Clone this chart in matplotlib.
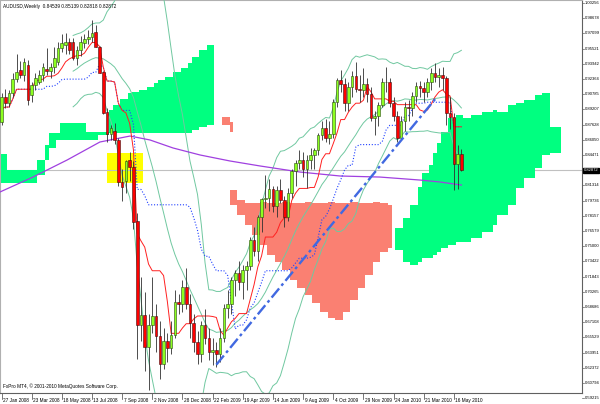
import numpy as np
import pandas as pd
import matplotlib
matplotlib.use("Agg")
import matplotlib.pyplot as plt
from matplotlib.transforms import blended_transform_factory

plt.rcParams['font.family'] = ['Liberation Sans', 'DejaVu Sans']

# ---------------- weekly AUDUSD candles (week 0 = 27 Jan 2008) ----------------
opens = [.879, .905, .899, .909, .924, .933, .928, .938, .907, .917, .921, .928, .934, .932, .936, .941,
         .956, .959, .962, .962, .945, .954, .961, .965, .967, .972, .957, .931, .889, .867, .870, .860,
         .817, .818, .839, .832, .776, .668, .679, .645, .668, .677, .657, .628, .652, .644, .658, .692,
         .690, .708, .690, .670, .650, .638, .668, .655, .640, .642, .638, .655, .686, .690, .715, .722,
         .713, .725, .729, .756, .745, .780, .799, .800, .809, .792, .808, .798, .780, .805, .828, .836,
         .840, .830, .840, .845, .850, .865, .873, .862, .866, .900, .923, .918, .899, .915, .927, .913,
         .912, .918, .908, .883, .885, .897, .920, .920, .899, .885, .862, .880, .895, .894, .906, .916,
         .914, .910, .920, .930, .926, .928, .925, .888, .884, .835, .84539]
highs = [.909, .913, .912, .930, .950, .942, .945, .943, .920, .930, .933, .940, .956, .940, .957, .962,
         .970, .971, .966, .966, .958, .968, .970, .975, .985, .980, .958, .932, .893, .876, .878, .862,
         .830, .840, .848, .838, .784, .718, .702, .680, .718, .690, .672, .665, .660, .672, .705, .700,
         .715, .727, .700, .680, .662, .672, .685, .665, .655, .650, .665, .690, .705, .718, .725, .735,
         .730, .735, .760, .770, .782, .800, .824, .820, .812, .812, .820, .802, .810, .830, .840, .850,
         .848, .845, .852, .852, .868, .880, .882, .880, .903, .925, .933, .925, .920, .932, .941, .928,
         .935, .925, .915, .890, .900, .925, .936, .925, .905, .890, .885, .900, .902, .910, .920, .922,
         .920, .925, .935, .940, .935, .936, .927, .905, .888, .855, .85139]
lows = [.876, .893, .895, .905, .920, .925, .922, .897, .900, .912, .918, .922, .928, .925, .930, .938,
        .952, .950, .950, .943, .938, .948, .956, .960, .962, .957, .930, .887, .858, .860, .856, .812,
        .797, .805, .818, .768, .633, .652, .620, .601, .660, .640, .612, .622, .630, .638, .655, .680,
        .682, .685, .655, .640, .628, .630, .648, .632, .627, .625, .630, .650, .675, .680, .698, .705,
        .695, .705, .725, .740, .735, .765, .790, .787, .785, .780, .795, .770, .776, .800, .812, .830,
        .822, .810, .830, .830, .845, .860, .858, .856, .862, .895, .910, .890, .890, .905, .910, .900,
        .905, .900, .880, .865, .875, .895, .910, .895, .880, .858, .860, .870, .880, .885, .900, .905,
        .900, .905, .912, .920, .915, .912, .876, .872, .808, .809, .82818]
closes = [.905, .899, .909, .924, .931, .928, .941, .902, .917, .925, .928, .936, .932, .936, .945, .956,
          .961, .962, .954, .945, .954, .962, .965, .967, .971, .957, .930, .888, .867, .873, .860, .817,
          .811, .838, .832, .775, .668, .679, .645, .668, .677, .657, .628, .652, .644, .658, .692, .690,
          .708, .690, .670, .650, .638, .668, .655, .640, .642, .638, .655, .686, .690, .715, .722, .713,
          .725, .729, .756, .745, .780, .799, .800, .809, .792, .808, .798, .780, .805, .828, .836, .840,
          .830, .840, .845, .850, .865, .873, .862, .866, .900, .923, .918, .899, .915, .927, .913, .912,
          .918, .908, .883, .885, .897, .920, .920, .899, .885, .862, .880, .895, .894, .906, .916, .914,
          .910, .920, .930, .926, .928, .925, .888, .884, .835, .846, .82872]

# ---------------- slow moving average (purple) ----------------
ma_bar = [-0.4, 8.4, 17.4, 26.1, 34.1, 39.4, 45.5, 52.7, 60.6, 68.6, 79.2, 89.8, 100.4, 111.0, 116.3, 122.0]
ma_val = [0.8063, 0.8219, 0.8395, 0.8582, 0.8644, 0.8603, 0.8520, 0.8447, 0.8385, 0.8333, 0.8270,
          0.8229, 0.8218, 0.8187, 0.8167, 0.8135]

# ---------------- Ichimoku cloud segments (start bar, top, bottom) ----------------
c1_start = [-0.5, 1.5, 9.5, 11.5, 12.5, 14.5, 15.5, 22.5, 25.5, 28.5, 29.5, 31.5, 33.5, 34.5, 36.5,
            38.5, 40.5, 41.5, 43.5, 45.5, 47.5, 49.5, 50.5, 52.5, 54.5, 56.5]
c1_top = [0.8458, 0.8291, 0.8395, 0.8551, 0.8676, 0.8676, 0.8779, 0.8686, 0.8686, 0.8914, 0.8966,
          0.9029, 0.9091, 0.9101, 0.9122, 0.9153, 0.9195, 0.9226, 0.9257, 0.9309, 0.9351, 0.9403,
          0.9465, 0.9538, 0.9589, 0.9589]
c1_bot = [0.8156, 0.8156, 0.8239, 0.8395, 0.8520, 0.8603, 0.8603, 0.8603, 0.8655, 0.8676, 0.8676,
          0.8676, 0.8676, 0.8676, 0.8676, 0.8676, 0.8676, 0.8676, 0.8676, 0.8676, 0.8676, 0.8676,
          0.8707, 0.8738, 0.8759, 0.8759]

s1_start = [58.5, 60.5, 61.5]
s1_top = [0.8842, 0.8790, 0.8790]
s1_bot = [0.8759, 0.8686, 0.8686]

c2_start = [60.5, 62.5, 64.5, 66.5, 68.5, 70.5, 72.5, 74.5, 76.5, 78.5, 80.5, 82.5, 84.5, 86.5, 88.5,
            90.5, 92.5, 94.5, 96.5, 98.5, 100.5, 102.5, 103.5]
c2_top = [0.8084, 0.7980, 0.7949, 0.7949, 0.7960, 0.7949, 0.7949, 0.7960, 0.7949, 0.7949, 0.7960,
          0.7949, 0.7949, 0.7960, 0.7949, 0.7949, 0.7960, 0.7949, 0.7949, 0.7960, 0.7949, 0.7928, 0.7928]
c2_bot = [0.7928, 0.7824, 0.7720, 0.7616, 0.7512, 0.7409, 0.7336, 0.7253, 0.7149, 0.7066, 0.6993,
          0.6910, 0.6817, 0.6754, 0.6734, 0.6817, 0.6941, 0.7066, 0.7201, 0.7336, 0.7440, 0.7481, 0.7481]

c3_start = [104.5, 106.5, 108.5, 110.5, 111.5, 113.5, 114.5, 115.5, 116.5, 118.5, 120.5, 122.5, 124.5,
            127.5, 130.5, 131.5, 134.5, 136.5, 138.5, 141.5, 143.5, 145.5, 148.5]
c3_top = [0.7689, 0.7793, 0.7928, 0.8115, 0.8260, 0.8343, 0.8468, 0.8572, 0.8686, 0.8831, 0.8862,
          0.8831, 0.8862, 0.8894, 0.8914, 0.8894, 0.8966, 0.8987, 0.9018, 0.9070, 0.9091, 0.8738, 0.8738]
c3_bot = [0.7461, 0.7336, 0.7305, 0.7336, 0.7377, 0.7377, 0.7409, 0.7440, 0.7481, 0.7512, 0.7544,
          0.7544, 0.7585, 0.7647, 0.7720, 0.7824, 0.7928, 0.8104, 0.8208, 0.8312, 0.8447, 0.8468, 0.8468]

# ---------------- objects ----------------
box_bars = [28.0, 37.6]
box_prices = [0.8153, 0.8471]
trend_bars = [57.0, 115.3]
trend_prices = [0.627, 0.904]
last_price = 0.82872

price_ticks = [1.00256, 0.98678, 0.97099, 0.95521, 0.93942, 0.92364, 0.90785, 0.89207, 0.87628,
               0.86050, 0.84471, 0.82893, 0.81314, 0.79736, 0.78157, 0.76579, 0.75000, 0.73422,
               0.71843, 0.70265, 0.68686, 0.67108, 0.65529, 0.63951, 0.62372, 0.60794, 0.59215]
date_pos = [0, 8, 16, 24, 32, 40, 48, 56, 64, 72, 80, 88, 96, 104, 112, 120]
date_labels = ['27 Jan 2008', '23 Mar 2008', '18 May 2008', '13 Jul 2008', '7 Sep 2008', '2 Nov 2008',
               '28 Dec 2008', '22 Feb 2009', '19 Apr 2009', '14 Jun 2009', '9 Aug 2009', '4 Oct 2009',
               '29 Nov 2009', '24 Jan 2010', '21 Mar 2010', '16 May 2010']

# ---------------- indicators from the candles ----------------
df = pd.DataFrame({'o': opens, 'h': highs, 'l': lows, 'c': closes})
x = np.arange(len(df))
tenkan = (df.h.rolling(9, min_periods=1).max() + df.l.rolling(9, min_periods=1).min()) / 2
kijun = (df.h.rolling(26, min_periods=1).max() + df.l.rolling(26, min_periods=1).min()) / 2
mid = df.c.rolling(20, min_periods=20).mean()
sd = df.c.rolling(20, min_periods=20).std(ddof=0)
bb_up, bb_lo = mid + 2 * sd, mid - 2 * sd

# ---------------- figure ----------------
fig = plt.figure(figsize=(6, 4.04), dpi=100)
ax = fig.add_axes([0, 11 / 404, 582 / 600, 393 / 404])
ax.set_xlim(-0.4, 154.0)
ax.set_ylim(0.59753, 1.00568)
ax.set_xticks([])
ax.set_yticks([])
for s in ['left', 'top']:
    ax.spines[s].set_color('#b0b0b0')
    ax.spines[s].set_linewidth(0.8)
for s in ['right', 'bottom']:
    ax.spines[s].set_color('#606060')
    ax.spines[s].set_linewidth(0.8)

green = '#00ff80'
salmon = '#fa8072'


def cloud(starts, top, bot, color):
    ax.fill_between(starts, bot, top, step='post', color=color, linewidth=0, zorder=2)


ax.add_patch(plt.Rectangle((box_bars[0], box_prices[0]), box_bars[1] - box_bars[0],
                           box_prices[1] - box_prices[0], color='#ffff00', lw=0, zorder=1))
ax.axhline(last_price, color='#c0c0c0', lw=0.8, zorder=1.5)
cloud(c1_start, c1_top, c1_bot, green)
cloud(s1_start, s1_top, s1_bot, salmon)
cloud(c2_start, c2_top, c2_bot, salmon)
cloud(c3_start, c3_top, c3_bot, green)

bbc = '#70c8a0'
for line in (bb_up, mid, bb_lo):
    ax.plot(x, line, color=bbc, lw=0.7, zorder=3)
ax.plot(ma_bar, ma_val, color='#a040e0', lw=0.9, zorder=3)
ax.plot(x, kijun, color='#2040ff', lw=0.8, ls=(0, (1, 1.6)), zorder=3)
ax.plot(x, tenkan, color='#ff2020', lw=0.7, zorder=3)

# candles
bull = df.c >= df.o
ax.vlines(x, df.l, df.h, color='#303030', lw=0.6, zorder=4)
body_b = np.minimum(df.o, df.c)
body_h = np.maximum(np.abs(df.c - df.o), 0.0008)
ax.bar(x[bull], body_h[bull], bottom=body_b[bull], width=0.7, color='#8cff20',
       edgecolor='#2a4a10', linewidth=0.4, zorder=5)
ax.bar(x[~bull], body_h[~bull], bottom=body_b[~bull], width=0.7, color='#ff0000',
       edgecolor='#401010', linewidth=0.4, zorder=5)

ax.plot(trend_bars, trend_prices, color='#4169e1', lw=1.7, ls=(0, (5, 1.5, 1.2, 1.5)), zorder=6)

# axes labels
fs = 3.4
fs_r = 2.95
tr = blended_transform_factory(ax.transAxes, ax.transData)
for p in price_ticks:
    ax.plot([1.0, 1.0035], [p, p], transform=tr, color='#606060', lw=0.5, clip_on=False)
    if abs(p - last_price) > 0.006:
        ax.text(1.0045, p, '%.5f' % p, transform=tr, fontsize=fs_r, va='center', ha='left',
                clip_on=False)
ax.text(1.0035, last_price, '%.5f' % last_price, transform=tr, fontsize=fs_r, va='center', ha='left',
        color='white', clip_on=False, zorder=10,
        bbox=dict(boxstyle='square,pad=0.2', fc='black', ec='black'))

trx = blended_transform_factory(ax.transData, ax.transAxes)
for pos, lab in zip(date_pos, date_labels):
    ax.plot([pos, pos], [0, -0.014], transform=trx, color='#404040', lw=0.5, clip_on=False)
    ax.text(pos + 0.4, -0.018, lab, transform=trx, fontsize=fs, va='center', ha='left', clip_on=False)

ax.text(0.005, 0.9905, 'AUDUSD,Weekly  0.84539 0.85139 0.82818 0.82872', transform=ax.transAxes,
        fontsize=fs, va='top', ha='left', zorder=10)
ax.text(0.005, 0.018, 'FxPro MT4, \u00a9 2001-2010 MetaQuotes Software Corp.', transform=ax.transAxes,
        fontsize=fs, va='center', ha='left', zorder=10)

fig.savefig('out.png', dpi=100, facecolor='white')
